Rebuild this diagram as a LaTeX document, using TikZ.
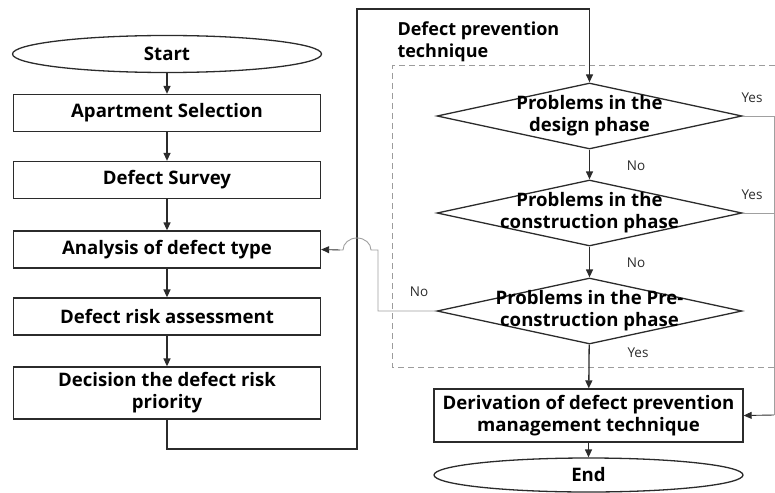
\documentclass[tikz,border=0pt]{standalone}
\usepackage{fontspec}
\setmainfont{Open Sans}
\usetikzlibrary{positioning,arrows.meta,shapes.geometric}
\definecolor{ln}{HTML}{2B2B2B}
\definecolor{thinln}{HTML}{A0A0A0}
\definecolor{dashln}{HTML}{9C9C9C}
\newcommand{\boxfont}{\bfseries\fontsize{18.6}{22}\selectfont}
\newcommand{\ansfont}{\fontsize{13.5}{16}\selectfont}

\begin{document}
\begin{tikzpicture}[x=1pt, y=-1pt,
  box/.style={draw=ln, line width=1.3pt, minimum width=307pt, minimum height=37pt, inner sep=0pt, font=\boxfont, align=center},
  term/.style={ellipse, draw=ln, line width=1.3pt, minimum width=309pt, minimum height=37pt, inner sep=0pt, font=\boxfont},
  decision/.style={diamond, draw=ln, line width=1.3pt, minimum width=305pt, minimum height=66pt, inner sep=0pt},
  dtext/.style={font=\boxfont, align=center},
  flow/.style={draw=ln, line width=1.3pt, -{Triangle[length=8pt,width=7pt]}},
  side/.style={draw=thinln, line width=0.9pt},
  ans/.style={font=\ansfont, text=ln}]
\useasboundingbox (0,0) rectangle (775,492);

% dashed frame of the prevention block
\draw[dashln, line width=1pt, dash pattern=on 6pt off 4pt] (785,66) -- (392,66) -- (392,367) -- (785,367);
\node[font=\bfseries\fontsize{18}{22}\selectfont, align=left, anchor=west] (frame) at (394,42) {Defect prevention\\technique};

% left column
\node[term] (start) at (167,54) {Start};
\node[box] (sel) at (167,113) {Apartment Selection};
\node[box] (survey) at (167,180) {Defect Survey};
\node[box] (type) at (167,249.5) {Analysis of defect type};
\node[box] (risk) at (167,316.5) {Defect risk assessment};
\node[box, minimum height=52pt] (prio) at (167,393) {Decision the defect risk\\priority};

% right column
\node[decision] (d1) at (589.5,116) {};
\node[dtext] at (d1) {Problems in the\\design phase};
\node[decision] (d2) at (589.5,213) {};
\node[dtext] at (d2) {Problems in the\\construction phase};
\node[decision] (d3) at (589.5,311) {};
\node[dtext] at (d3) {Problems in the Pre-\\construction phase};
\node[box, minimum width=309pt, minimum height=53pt] (deriv) at (588.5,415.5) {Derivation of defect prevention\\management technique};
\node[term, minimum height=34pt] (end) at (588.5,475) {End};

% helper points
\coordinate (lowturn) at (357,449);
\coordinate (topturn) at (589.5,9);
\coordinate (backturn) at (378,250);
\coordinate (hopin) at (371,250);
\coordinate (rightrail) at (774,415);

% main flow
\draw[flow] (start) -- (sel);
\draw[flow] (sel) -- (survey);
\draw[flow] (survey) -- (type);
\draw[flow] (type) -- (risk);
\draw[flow] (risk) -- (prio);
\draw[flow] (prio.south) |- (lowturn) |- (topturn) -- (d1.north);
\draw[flow] (d1) -- (d2);
\draw[flow] (d2) -- (d3);
\draw[flow] (d3) -- (deriv);
\draw[flow] (deriv) -- (end);

% side branches
\draw[side] (d1.east) -| (rightrail);
\draw[side] (d2.east) -- (d2.east -| rightrail);
\draw[side, -{Triangle[length=8pt,width=7pt]}, ln] (rightrail) -- (deriv.east);
\draw[side] (d3.west) -| (backturn) -- (hopin) arc[start angle=0, end angle=180, x radius=14pt, y radius=12pt] -- ++(-3,0) coordinate (hopout);
\draw[side, -{Triangle[length=8pt,width=7pt]}, ln] (hopout) -- (type.east);

% answers
\node[ans] at (752,98) {Yes};
\node[ans] at (636,166) {No};
\node[ans] at (752,195) {Yes};
\node[ans] at (636,263) {No};
\node[ans] at (419,292) {No};
\node[ans] at (638,353) {Yes};
\end{tikzpicture}
\end{document}
